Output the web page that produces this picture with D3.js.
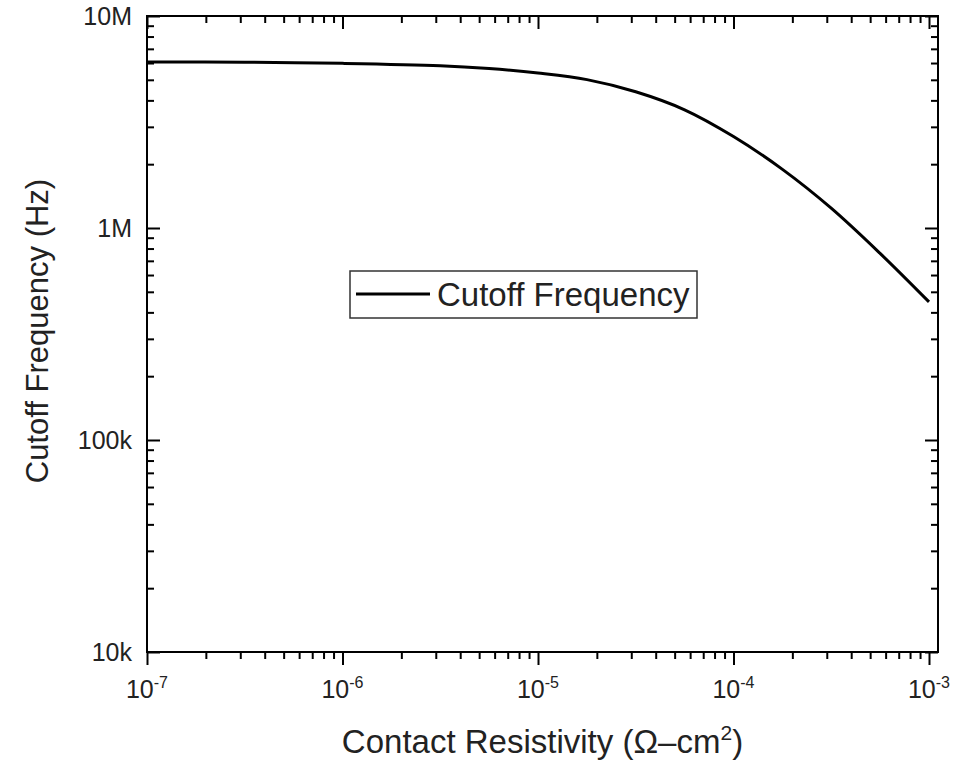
<!DOCTYPE html>
<html>
<head>
<meta charset="utf-8">
<script src="https://cdn.jsdelivr.net/npm/d3@7"></script>
<style>
  body { margin: 0; background: #fff; }
  svg { display: block; font-family: "Liberation Sans", Arial, sans-serif; }
</style>
</head>
<body>
<svg width="954" height="763"></svg>
<script>
// Daten
const rho = [1e-7, 3.16e-7, 1e-6, 3.16e-6, 5.62e-6, 1e-5, 1.78e-5, 3.16e-5, 5.62e-5, 1e-4, 1.78e-4, 3.16e-4, 5.62e-4, 1e-3];
const freq = [6.07e6, 6.05e6, 5.98e6, 5.83e6, 5.65e6, 5.38e6, 5.01e6, 4.39e6, 3.61e6, 2.70e6, 1.89e6, 1.24e6, 7.59e5, 4.48e5];
const xMajor = [1e-7, 1e-6, 1e-5, 1e-4, 1e-3];
const xExp = ["-7", "-6", "-5", "-4", "-3"];
const yMajor = [1e4, 1e5, 1e6, 1e7];
const yLabels = ["10k", "100k", "1M", "10M"];
const seriesName = "Cutoff Frequency";

const pLeft = 147, pRight = 938, pTop = 16, pBottom = 652;

const svg = d3.select("svg");

const x = d3.scaleLog().domain([1e-7, Math.pow(10, -3 + 9 / 195.5)]).range([pLeft, pRight]);
const y = d3.scaleLog().domain([1e4, 1e7]).range([pBottom, pTop]);

// Minor-Ticks (2..9 je Dekade)
function minors(lo, hi) {
  const out = [];
  for (let e = lo; e < hi; e++) for (let m = 2; m <= 9; m++) out.push(m * Math.pow(10, e));
  return out;
}
const xMinor = minors(-7, -3);
const yMinor = minors(4, 7);

function styleAxis(g) {
  g.select(".domain").remove();
  g.selectAll(".tick line").attr("stroke", "#000").attr("stroke-width", 2);
}

// unten (nach außen)
svg.append("g").attr("transform", `translate(0,${pBottom})`)
  .call(d3.axisBottom(x).tickValues(xMajor).tickSize(13).tickFormat("")).call(styleAxis);
svg.append("g").attr("transform", `translate(0,${pBottom})`)
  .call(d3.axisBottom(x).tickValues(xMinor).tickSize(7).tickFormat("")).call(styleAxis);
// oben (nach innen)
svg.append("g").attr("transform", `translate(0,${pTop})`)
  .call(d3.axisTop(x).tickValues(xMajor).tickSize(-13).tickFormat("")).call(styleAxis);
svg.append("g").attr("transform", `translate(0,${pTop})`)
  .call(d3.axisTop(x).tickValues(xMinor).tickSize(-7).tickFormat("")).call(styleAxis);
// links (nach innen)
svg.append("g").attr("transform", `translate(${pLeft},0)`)
  .call(d3.axisLeft(y).tickValues(yMajor).tickSize(-13).tickFormat("")).call(styleAxis);
svg.append("g").attr("transform", `translate(${pLeft},0)`)
  .call(d3.axisLeft(y).tickValues(yMinor).tickSize(-7).tickFormat("")).call(styleAxis);
// rechts (nach innen)
svg.append("g").attr("transform", `translate(${pRight},0)`)
  .call(d3.axisRight(y).tickValues(yMajor).tickSize(-13).tickFormat("")).call(styleAxis);
svg.append("g").attr("transform", `translate(${pRight},0)`)
  .call(d3.axisRight(y).tickValues(yMinor).tickSize(-7).tickFormat("")).call(styleAxis);

// Rahmen
svg.append("rect")
  .attr("x", pLeft).attr("y", pTop)
  .attr("width", pRight - pLeft).attr("height", pBottom - pTop)
  .attr("fill", "none").attr("stroke", "#000").attr("stroke-width", 2);

// Y-Beschriftungen
svg.append("g").selectAll("text")
  .data(yMajor).enter().append("text")
  .attr("x", 132).attr("y", d => y(d) + 9)
  .attr("text-anchor", "end").attr("font-size", 25).attr("fill", "#222")
  .text((d, i) => yLabels[i]);

// X-Beschriftungen mit Exponent
const xl = svg.append("g").selectAll("text")
  .data(xMajor).enter().append("text")
  .attr("x", d => x(d)).attr("y", 698)
  .attr("text-anchor", "middle").attr("font-size", 25).attr("fill", "#222");
xl.append("tspan").text("10");
xl.append("tspan").attr("font-size", 16).attr("dy", -10).text((d, i) => xExp[i]);

// Achsentitel
svg.append("text")
  .attr("x", (pLeft + pRight) / 2).attr("y", 753)
  .attr("text-anchor", "middle").attr("font-size", 33).attr("fill", "#222")
  .call(t => {
    t.append("tspan").text("Contact Resistivity (Ω–cm");
    t.append("tspan").attr("font-size", 21).attr("dy", -13).text("2");
    t.append("tspan").attr("dy", 13).text(")");
  });

svg.append("text")
  .attr("transform", `translate(48,${(pTop + pBottom) / 2 - 3}) rotate(-90)`)
  .attr("text-anchor", "middle").attr("font-size", 31).attr("fill", "#222")
  .text("Cutoff Frequency (Hz)");

// Kurve
const line = d3.line()
  .x((d, i) => x(rho[i]))
  .y(d => y(d))
  .curve(d3.curveCatmullRom.alpha(0.5));

svg.append("path")
  .datum(freq)
  .attr("d", line)
  .attr("fill", "none").attr("stroke", "#000").attr("stroke-width", 3);

// Legende
const lg = svg.append("g");
lg.append("rect").attr("x", 350).attr("y", 271).attr("width", 347).attr("height", 47)
  .attr("fill", "#fff").attr("stroke", "#333").attr("stroke-width", 1.5);
lg.append("line").attr("x1", 356).attr("x2", 430).attr("y1", 294).attr("y2", 294)
  .attr("stroke", "#000").attr("stroke-width", 3);
lg.append("text").attr("x", 437).attr("y", 306).attr("font-size", 33).attr("fill", "#222")
  .text(seriesName);
</script>
</body>
</html>
